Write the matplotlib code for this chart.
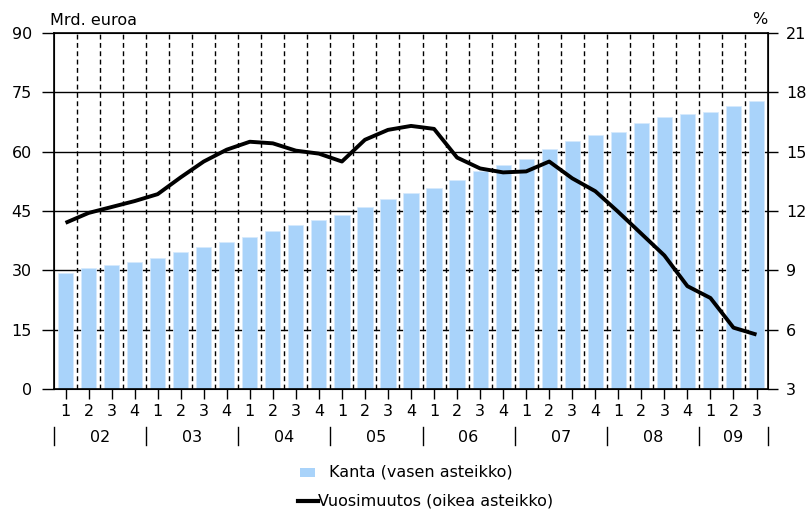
import matplotlib.pyplot as plt
import matplotlib.transforms as mtransforms
from matplotlib.patches import Rectangle
from matplotlib.lines import Line2D
import numpy as np

plt.rcParams['font.family'] = ['DejaVu Sans']
plt.rcParams['font.size'] = 11.5

# 2002Q1 ... 2009Q3
quarters = ['1', '2', '3', '4'] * 7 + ['1', '2', '3']
years = ['02', '03', '04', '05', '06', '07', '08', '09']
kanta = [29.4, 30.7, 31.4, 32.2, 33.0, 34.6, 35.9, 37.1, 38.3, 39.9, 41.5,
         42.8, 44.0, 46.0, 48.0, 49.6, 50.9, 52.9, 55.0, 56.5, 58.1,
         60.7, 62.6, 64.3, 65.0, 67.2, 68.7, 69.5, 69.9, 71.5, 72.7]
vuosimuutos = [11.4, 11.9, 12.2, 12.5, 12.85, 13.7, 14.5, 15.1, 15.5, 15.42, 15.05,
               14.9, 14.5, 15.6, 16.1, 16.3, 16.15, 14.7, 14.15, 13.95, 14.0,
               14.5, 13.65, 13.0, 11.95, 10.85, 9.75, 8.2, 7.6, 6.1, 5.75]

x = np.arange(len(kanta))

fig = plt.figure(figsize=(8.11, 5.15), dpi=100)
ax = fig.add_axes([0.0666, 0.2447, 0.8804, 0.6913])

ax.bar(x, kanta, width=0.66, color='#A9D3FA', edgecolor='#D6EAFD', linewidth=0.6, zorder=2)
ax.set_xlim(-0.5, len(kanta) - 0.5)
ax.set_ylim(0, 90)
ax.set_yticks(range(0, 91, 15))
for v in range(15, 90, 15):
    ax.axhline(v, color='black', lw=1.0, zorder=1)
for b in np.arange(0.5, len(kanta) - 1, 1.0):
    ax.axvline(b, color='black', lw=1.0, ls=(0, (3.5, 2.5)), zorder=1)

ax.set_xticks(x)
ax.set_xticklabels(quarters)
ax.tick_params(axis='x', length=7, width=1, pad=4)
ax.tick_params(axis='y', length=9, width=1, pad=7)
for s in ax.spines.values():
    s.set_linewidth(1.2)

ax2 = ax.twinx()
ax2.plot(x, vuosimuutos, color='black', lw=2.8, solid_capstyle='butt', zorder=5)
ax2.set_ylim(3, 21)
ax2.set_yticks(range(3, 22, 3))
ax2.tick_params(axis='y', length=7, width=1, pad=6)

# year labels and separators under the quarter labels
trans = mtransforms.blended_transform_factory(ax.transData, ax.transAxes)
starts = [-0.5 + 4 * k for k in range(len(years))]
ends = starts[1:] + [len(kanta) - 0.5]
for yr, s0, s1 in zip(years, starts, ends):
    ax.text((s0 + s1) / 2, -0.137, yr, transform=trans, ha='center', va='center')
for s in starts + [ends[-1]]:
    ax.plot([s, s], [-0.108, -0.158], transform=trans, color='black', lw=1.0, clip_on=False)

fig.text(0.062, 0.961, 'Mrd. euroa', ha='left', va='center')
fig.text(0.946, 0.962, '%', ha='right', va='center')

# legend
fig.patches.append(Rectangle((0.370, 0.074), 0.018, 0.018, transform=fig.transFigure,
                             facecolor='#A9D3FA', edgecolor='none'))
fig.text(0.406, 0.0835, 'Kanta (vasen asteikko)', ha='left', va='center')
fig.lines.append(Line2D([0.367, 0.392], [0.028, 0.028], transform=fig.transFigure,
                        color='black', lw=3))
fig.text(0.392, 0.028, 'Vuosimuutos (oikea asteikko)', ha='left', va='center')

fig.savefig('out.png', dpi=100)
